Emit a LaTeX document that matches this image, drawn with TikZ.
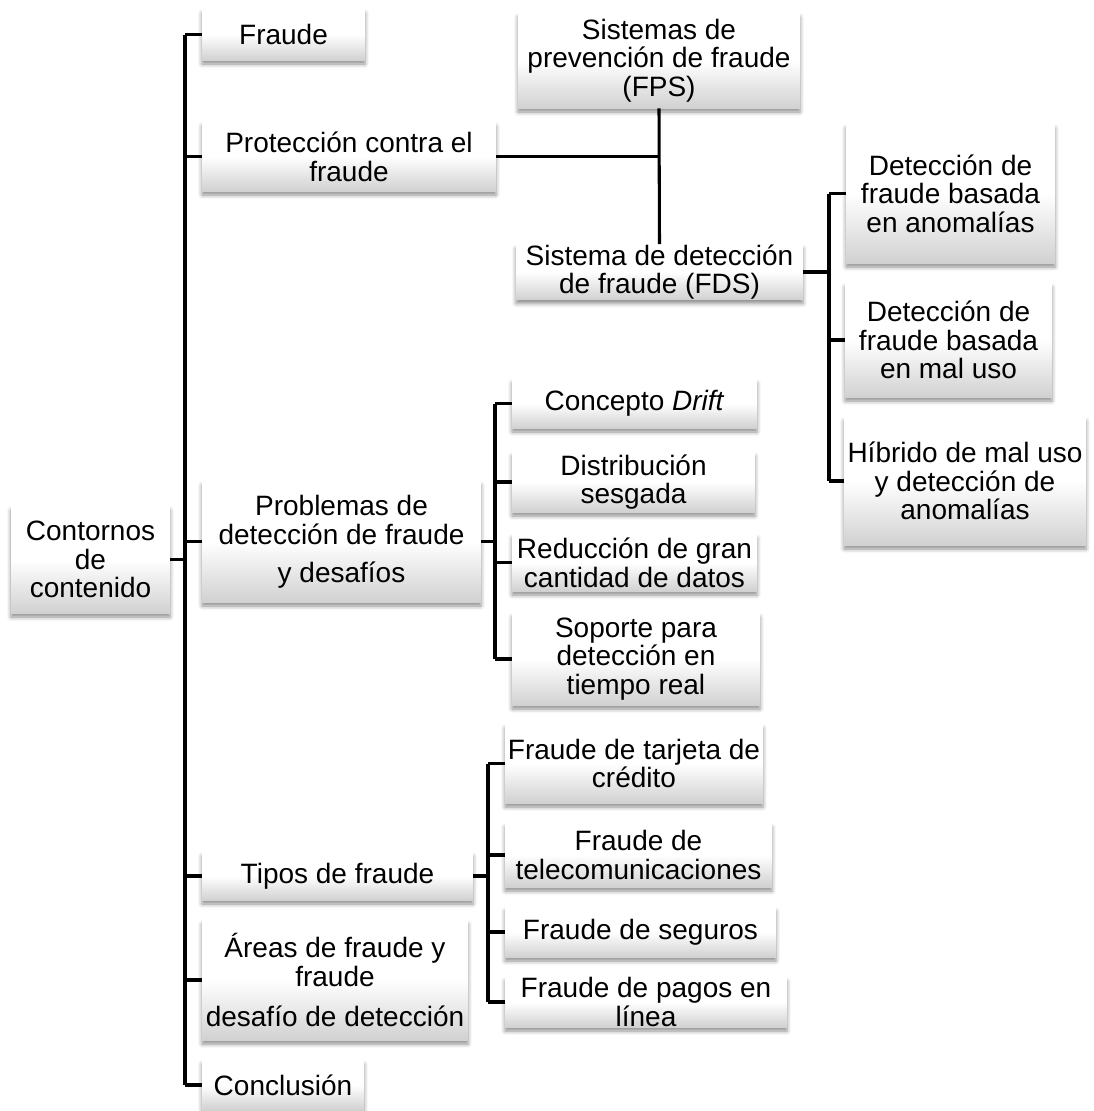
\documentclass[tikz,border=0pt]{standalone}
\usepackage{fontspec}
\setmainfont{Liberation Sans}
\usetikzlibrary{shadows.blur}

\tikzset{
  box/.style={inner sep=0pt, align=center, top color=white, bottom color=black!18,
    middle color=white, draw=none,
    blur shadow={shadow xshift=0pt, shadow yshift=-3pt, shadow blur radius=3pt, shadow opacity=45},
    font=\fontsize{21}{21.5}\selectfont},
  conn/.style={line width=2.3pt, black}
}

% box from its corner coordinates (x1,y1)-(x2,y2)
\newcommand\bx[6]{%
  \pgfmathsetmacro\bw{(#4-#2)*0.75}%
  \pgfmathsetmacro\bh{(#5-#3)*0.75}%
  \node[box, minimum width=\bw pt, minimum height=\bh pt] (#1) at ({(#2+#4)/2},{(#3+#5)/2}) {#6};}

\begin{document}
\begin{tikzpicture}[x=0.75pt,y=-0.75pt]
\useasboundingbox (0,0) rectangle (1094,1111);

% boxes
\bx{root}{11}{506}{170}{613}{Contornos\\de\\contenido}
\bx{fraude}{202}{9}{365}{60}{Fraude}
\bx{prot}{202}{122}{496}{191}{Protección contra el\\fraude}
\bx{fps}{518}{13}{800}{108}{Sistemas de\\prevención de fraude\\(FPS)}
\bx{fds}{516}{247}{803}{297}{Sistema de detección\\de fraude (FDS)}
\bx{anom}{846}{124}{1055}{263}{Detección de\\fraude basada\\en anomalías}
\bx{maluso}{845}{283}{1052}{397}{Detección de\\fraude basada\\en mal uso}
\bx{hib}{844}{417}{1086}{545}{Híbrido de mal uso\\y detección de\\anomalías}
\bx{prob}{202}{481}{481}{602}{Problemas de\\detección de fraude\\[7pt]y desafíos}
\bx{drift}{512}{379}{757}{428}{Concepto \textit{Drift}}
\bx{dist}{512}{452}{755}{512}{Distribución\\sesgada}
\bx{reduc}{512}{534}{757}{591}{Reducción de gran\\cantidad de datos}
\bx{soporte}{512}{613}{760}{705}{Soporte para\\detección en\\tiempo real}
\bx{tipos}{202}{852}{473}{900}{Tipos de fraude}
\bx{tarjeta}{505}{724}{763}{803}{Fraude de tarjeta de\\crédito}
\bx{telecom}{505}{823}{772}{887}{Fraude de\\telecomunicaciones}
\bx{seguros}{505}{907}{776}{957}{Fraude de seguros}
\bx{pagos}{505}{977}{787}{1027}{Fraude de pagos en\\línea}
\bx{areas}{202}{920}{468}{1040}{Áreas de fraude y\\fraude\\[9pt]desafío de detección}
\bx{concl}{202}{1060}{364}{1110}{Conclusión}

% trunk positions of the bracket lines
\coordinate (t) at (185,0);
\coordinate (pv) at (495,0);
\coordinate (rv) at (829,0);
\coordinate (tv) at (488,0);

% main outline
\draw[conn] (root.east) -- (root.east -| t);
\draw[conn] (fraude.west -| t) -- (concl.west -| t);
\foreach \n in {fraude,prot,prob,tipos,areas,concl}
  \draw[conn] (\n.west -| t) -- (\n.west);

% protection branch
\draw[conn] (prot.east) -- (prot.east -| fps.south);
\draw[conn] (fps.south) -- (fds.north);
\draw[conn] (fds.east) -- (fds.east -| rv);
\draw[conn] (anom.west -| rv) -- (hib.west -| rv);
\foreach \n in {anom,maluso,hib}
  \draw[conn] (\n.west -| rv) -- (\n.west);

% problems branch
\draw[conn] (prob.east) -- (prob.east -| pv);
\draw[conn] (drift.west -| pv) -- (soporte.west -| pv);
\foreach \n in {drift,dist,reduc,soporte}
  \draw[conn] (\n.west -| pv) -- (\n.west);

% fraud types branch
\draw[conn] (tipos.east) -- (tipos.east -| tv);
\draw[conn] (tarjeta.west -| tv) -- (pagos.west -| tv);
\foreach \n in {tarjeta,telecom,seguros,pagos}
  \draw[conn] (\n.west -| tv) -- (\n.west);
\end{tikzpicture}
\end{document}
